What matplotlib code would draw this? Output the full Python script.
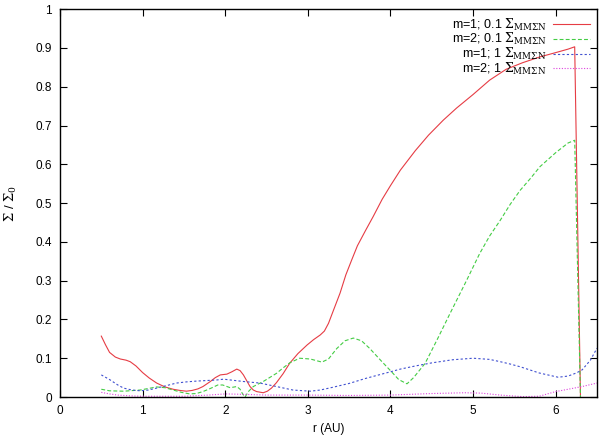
import matplotlib
matplotlib.use("Agg")
import matplotlib.pyplot as plt

r_red = [0.5, 0.55, 0.6, 0.67, 0.73, 0.8, 0.85, 0.92, 1.0, 1.08, 1.17, 1.27, 1.37, 1.45, 1.53, 1.6, 1.67, 1.73, 1.82, 1.88, 1.94, 2.02, 2.08, 2.14, 2.18, 2.22, 2.26, 2.3, 2.34, 2.38, 2.46, 2.51, 2.56, 2.62, 2.7, 2.78, 2.88, 2.99, 3.07, 3.15, 3.2, 3.25, 3.3, 3.39, 3.46, 3.53, 3.6, 3.7, 3.79, 3.9, 4.0, 4.12, 4.3, 4.46, 4.64, 4.8, 5.0, 5.2, 5.4, 5.6, 5.81, 6.0, 6.15, 6.23, 6.3]
v_red = [0.157, 0.135, 0.115, 0.103, 0.098, 0.095, 0.091, 0.08, 0.063, 0.049, 0.036, 0.026, 0.02, 0.017, 0.015, 0.017, 0.021, 0.027, 0.04, 0.05, 0.057, 0.059, 0.065, 0.072, 0.068, 0.057, 0.042, 0.027, 0.018, 0.014, 0.011, 0.015, 0.023, 0.037, 0.06, 0.087, 0.112, 0.134, 0.148, 0.16, 0.17, 0.19, 0.218, 0.268, 0.315, 0.353, 0.39, 0.43, 0.465, 0.51, 0.545, 0.585, 0.635, 0.675, 0.714, 0.745, 0.78, 0.817, 0.845, 0.862, 0.877, 0.888, 0.897, 0.903, 0.0]

r_green = [0.5, 0.6, 0.77, 0.97, 1.07, 1.17, 1.27, 1.37, 1.47, 1.57, 1.65, 1.73, 1.82, 1.91, 1.97, 2.06, 2.14, 2.18, 2.21, 2.24, 2.28, 2.34, 2.46, 2.62, 2.7, 2.78, 2.9, 3.03, 3.17, 3.25, 3.35, 3.45, 3.55, 3.65, 3.75, 3.88, 4.0, 4.1, 4.2, 4.28, 4.42, 4.57, 4.72, 4.92, 5.08, 5.2, 5.33, 5.45, 5.57, 5.7, 5.81, 6.0, 6.15, 6.23, 6.3]
v_green = [0.02, 0.016, 0.015, 0.018, 0.022, 0.026, 0.024, 0.018, 0.012, 0.008, 0.009, 0.014, 0.022, 0.031, 0.031, 0.024, 0.027, 0.02, 0.008, 0.0, 0.014, 0.027, 0.04, 0.061, 0.075, 0.088, 0.1, 0.098, 0.09, 0.098, 0.125, 0.145, 0.152, 0.145, 0.125, 0.095, 0.068, 0.045, 0.034, 0.05, 0.087, 0.15, 0.215, 0.30, 0.37, 0.415, 0.456, 0.497, 0.533, 0.565, 0.594, 0.63, 0.655, 0.662, 0.0]

r_blue = [0.5, 0.6, 0.7, 0.77, 0.87, 0.97, 1.07, 1.17, 1.3, 1.41, 1.53, 1.65, 1.9, 1.98, 2.1, 2.22, 2.42, 2.62, 2.82, 3.03, 3.15, 3.3, 3.5, 3.7, 4.0, 4.12, 4.3, 4.5, 4.75, 5.0, 5.2, 5.33, 5.45, 5.57, 5.8, 6.03, 6.15, 6.25, 6.32, 6.42, 6.5]
v_blue = [0.057, 0.045, 0.031, 0.023, 0.018, 0.016, 0.018, 0.023, 0.03, 0.036, 0.039, 0.041, 0.044, 0.046, 0.043, 0.04, 0.036, 0.027, 0.018, 0.015, 0.018, 0.025, 0.035, 0.048, 0.065, 0.072, 0.08, 0.088, 0.096, 0.1, 0.097, 0.091, 0.085, 0.078, 0.062, 0.051, 0.054, 0.062, 0.07, 0.095, 0.126]

r_mag = [0.5, 0.6, 0.7, 0.85, 1.0, 1.5, 1.8, 2.0, 2.2, 2.5, 3.0, 3.5, 4.0, 4.5, 4.9, 5.1, 5.33, 5.6, 5.8, 6.0, 6.15, 6.32, 6.5]
v_mag = [0.012, 0.008, 0.005, 0.003, 0.002, 0.002, 0.005, 0.008, 0.007, 0.005, 0.005, 0.004, 0.005, 0.009, 0.011, 0.01, 0.005, 0.001, 0.002, 0.014, 0.02, 0.027, 0.036]

labels = [r"m=1; 0.1 $\Sigma_{\rm MM\Sigma N}$", r"m=2; 0.1 $\Sigma_{\rm MM\Sigma N}$",
          r"m=1; 1 $\Sigma_{\rm MM\Sigma N}$", r"m=2; 1 $\Sigma_{\rm MM\Sigma N}$"]
xticks = [0, 1, 2, 3, 4, 5, 6]
yticks = [0, 0.1, 0.2, 0.3, 0.4, 0.5, 0.6, 0.7, 0.8, 0.9, 1]
ytick_labels = ["0", "0.1", "0.2", "0.3", "0.4", "0.5", "0.6", "0.7", "0.8", "0.9", "1"]

plt.rcParams['font.family'] = ['Liberation Sans', 'DejaVu Sans']
plt.rcParams['mathtext.fontset'] = 'dejavuserif'

fig = plt.figure(figsize=(6, 4.37), dpi=100)
ax = fig.add_axes([0.1, 0.0915, 0.895, 0.8875])

ax.plot(r_red, v_red, color='#e63c44', lw=0.8, ls='-', label=labels[0])
ax.plot(r_green, v_green, color='#44cc44', lw=0.8, ls=(0, (3.5, 2)), label=labels[1])
ax.plot(r_blue, v_blue, color='#4050d0', lw=0.8, ls=(0, (2, 2)), label=labels[2])
ax.plot(r_mag, v_mag, color='#dd44dd', lw=0.8, ls=(0, (1, 1.5)), label=labels[3])

ax.set_xlim(0, 6.5)
ax.set_ylim(0, 1)
ax.set_xticks(xticks)
ax.set_yticks(yticks)
ax.set_yticklabels(ytick_labels)
ax.tick_params(direction='in', top=True, right=True, length=5, width=0.8, labelsize=8.5, pad=6)
for s in ax.spines.values():
    s.set_linewidth(1.0)

ax.set_xlabel("r (AU)", fontsize=8.5)
ax.set_ylabel(r"$\Sigma$ / $\Sigma_0$", fontsize=9.5, labelpad=12)

leg = ax.legend(loc='upper right', frameon=False, markerfirst=False, fontsize=9,
                handlelength=2.9, labelspacing=-0.12, borderaxespad=0.3, handletextpad=0.55,
                borderpad=0.3)
for t in leg.get_texts():
    t.set_ha('right')

fig.savefig("out.png", dpi=100)
